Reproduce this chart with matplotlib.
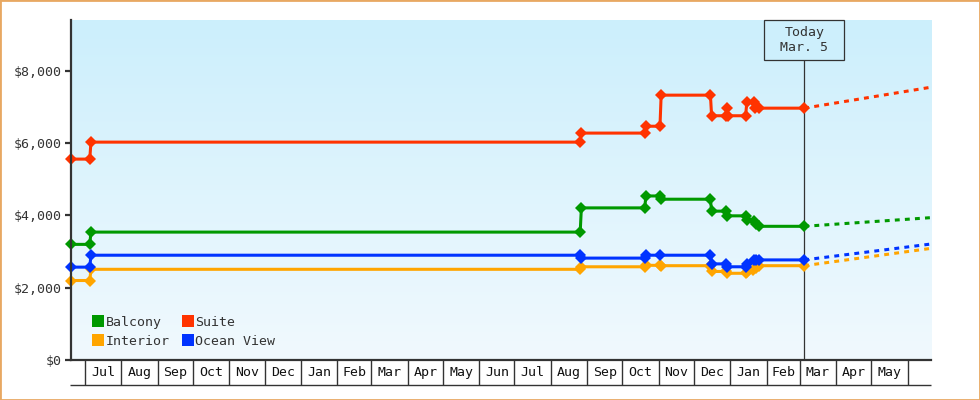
import matplotlib
matplotlib.use('Agg')
import matplotlib.pyplot as plt
import matplotlib.dates as mdates
import matplotlib.transforms as mtransforms
from matplotlib.lines import Line2D
from matplotlib.patches import Rectangle
from matplotlib.colors import LinearSegmentedColormap
import numpy as np
import pandas as pd

plt.rcParams['font.family'] = ['DejaVu Sans Mono', 'DejaVu Sans']

# ---------------- data ----------------
series_names = ["Balcony", "Interior", "Suite", "Ocean View"]
series_colors = ["#009900", "#ffa500", "#ff3300", "#0033ff"]

balcony_dates = ["2023-06-19", "2023-07-05", "2023-07-06", "2024-08-26", "2024-08-27",
                 "2024-10-20", "2024-10-21", "2024-11-02", "2024-11-03", "2024-12-15",
                 "2024-12-16", "2024-12-28", "2024-12-29", "2025-01-14", "2025-01-15",
                 "2025-01-21", "2025-01-23", "2025-01-25", "2025-03-05"]
balcony_prices = [3200, 3200, 3540, 3540, 4210,
                  4210, 4540, 4540, 4450, 4450,
                  4120, 4120, 3990, 3990, 3880,
                  3860, 3760, 3700, 3700]

interior_dates = ["2023-06-19", "2023-07-05", "2023-07-06", "2024-08-26", "2024-08-27",
                  "2024-10-20", "2024-10-21", "2024-11-02", "2024-11-03", "2024-12-15",
                  "2024-12-16", "2024-12-28", "2024-12-29", "2025-01-14", "2025-01-15",
                  "2025-01-20", "2025-01-23", "2025-01-25", "2025-03-05"]
interior_prices = [2200, 2200, 2510, 2510, 2580,
                   2580, 2620, 2620, 2610, 2610,
                   2450, 2450, 2400, 2400, 2440,
                   2480, 2560, 2610, 2610]

suite_dates = ["2023-06-19", "2023-07-05", "2023-07-06", "2024-08-26", "2024-08-27",
               "2024-10-20", "2024-10-21", "2024-11-02", "2024-11-03", "2024-12-15",
               "2024-12-16", "2024-12-28", "2024-12-29", "2024-12-30", "2025-01-14",
               "2025-01-15", "2025-01-21", "2025-01-22", "2025-01-25", "2025-03-05"]
suite_prices = [5560, 5560, 6030, 6030, 6280,
                6280, 6470, 6470, 7330, 7330,
                6760, 6760, 6970, 6760, 6760,
                7130, 7130, 6980, 6970, 6970]

ocean_dates = ["2023-06-19", "2023-07-05", "2023-07-06", "2024-08-26", "2024-08-27",
               "2024-10-20", "2024-10-21", "2024-11-02", "2024-12-15",
               "2024-12-16", "2024-12-28", "2024-12-29", "2025-01-14", "2025-01-15",
               "2025-01-21", "2025-01-23", "2025-01-25", "2025-03-05"]
ocean_prices = [2570, 2570, 2900, 2900, 2820,
                2820, 2900, 2900, 2900,
                2660, 2660, 2580, 2580, 2660,
                2760, 2770, 2770, 2770]

forecast_dates = ["2025-03-05", "2025-06-21"]
balcony_forecast = [3700, 3940]
interior_forecast = [2610, 3090]
suite_forecast = [6970, 7550]
ocean_forecast = [2770, 3210]

today = "2025-03-05"
today_label = "Today\nMar. 5"

month_labels = ["Jul", "Aug", "Sep", "Oct", "Nov", "Dec", "Jan", "Feb", "Mar", "Apr",
                "May", "Jun", "Jul", "Aug", "Sep", "Oct", "Nov", "Dec", "Jan", "Feb",
                "Mar", "Apr", "May"]
first_month = "2023-07-01"

y_ticks = [0, 2000, 4000, 6000, 8000]
y_ticklabels = ["$0", "$2,000", "$4,000", "$6,000", "$8,000"]
x_range = ["2023-06-19", "2025-06-21"]
y_max = 9410

# ---------------- figure ----------------
W, H = 980, 400
fig = plt.figure(figsize=(W / 100, H / 100), dpi=100)
fig.patch.set_facecolor('white')
ax = fig.add_axes([71 / W, 40 / H, 860 / W, 340 / H])

dark = "#333333"
fs = 9.5

# background gradient
cmap = LinearSegmentedColormap.from_list("bg", ["#cceffc", "#f1f9fe"])
ax.imshow(np.linspace(0, 1, 256).reshape(-1, 1), cmap=cmap, aspect='auto',
          extent=[0, 1, 0, 1], transform=ax.transAxes, zorder=0, interpolation='bilinear')

dates_list = [balcony_dates, interior_dates, suite_dates, ocean_dates]
prices_list = [balcony_prices, interior_prices, suite_prices, ocean_prices]
fc_list = [balcony_forecast, interior_forecast, suite_forecast, ocean_forecast]

fc_x = pd.to_datetime(forecast_dates)
for name, col, d, p, f in zip(series_names, series_colors, dates_list, prices_list, fc_list):
    ax.plot(fc_x, f, color=col, lw=2.2, linestyle=(0, (1.6, 1.7)),
            dash_capstyle='butt', zorder=3, clip_on=False)
for name, col, d, p in zip(series_names, series_colors, dates_list, prices_list):
    ax.plot(pd.to_datetime(d), p, color=col, lw=2.2, marker='D', ms=5.8, mew=0,
            zorder=4, clip_on=False, solid_joinstyle='miter')

x0, x1 = mdates.date2num(pd.to_datetime(x_range))
ax.set_xlim(x0, x1)
ax.set_ylim(0, y_max)

# spines
for s in ['top', 'right']:
    ax.spines[s].set_visible(False)
ax.spines['left'].set_color(dark)
ax.spines['left'].set_linewidth(1.6)
ax.spines['bottom'].set_color(dark)
ax.spines['bottom'].set_linewidth(1.6)
ax.spines['left'].set_zorder(5)

ax.set_yticks(y_ticks)
ax.set_yticklabels(y_ticklabels)
ax.tick_params(axis='y', length=4, width=1.6, color=dark, labelcolor=dark,
               labelsize=fs, pad=2.5, direction='out')
ax.set_xticks([])

# month boxes
trans = mtransforms.blended_transform_factory(ax.transData, ax.transAxes)
box_h = 25 / 340
bounds = pd.date_range(first_month, periods=len(month_labels) + 1, freq='MS')
bnums = mdates.date2num(bounds)
for b in bnums:
    ax.plot([b, b], [0, -box_h], transform=trans, color=dark, lw=1.0,
            clip_on=False, solid_capstyle='butt')
ax.plot([-0.0012, 1], [-box_h, -box_h], transform=ax.transAxes, color=dark, lw=1.0,
        clip_on=False, solid_capstyle='butt')
for lab, a, b in zip(month_labels, bnums[:-1], bnums[1:]):
    ax.text((a + b) / 2, -box_h / 2, lab, transform=trans, ha='center', va='center',
            fontsize=fs, color="#111111")

# today marker
tnum = mdates.date2num(pd.to_datetime(today))
tfrac = (tnum - x0) / (x1 - x0)
box_top = 1.0
box_bot = (360 - 60) / 340
ax.plot([tnum, tnum], [0, box_bot], transform=trans, color=dark, lw=0.9, zorder=3.5)
bw = 80 / 860
ax.add_patch(Rectangle((tfrac - bw / 2, box_bot), bw, box_top - box_bot,
                       transform=ax.transAxes, facecolor="#cdeffc", edgecolor=dark,
                       lw=0.9, zorder=6, clip_on=False))
ax.text(tfrac, (box_top + box_bot) / 2, today_label, transform=ax.transAxes,
        ha='center', va='center', fontsize=fs, color=dark, zorder=7,
        linespacing=1.25)

# legend
handles = [Line2D([], [], marker='s', ls='', color=c, ms=8, mew=0) for c in series_colors]
leg = ax.legend(handles, series_names, ncol=2, loc='lower left',
                bbox_to_anchor=(0.024, 0.036), frameon=False, fontsize=fs,
                handlelength=1.0, handletextpad=0.05, columnspacing=0.92,
                labelspacing=0.47, borderpad=0, borderaxespad=0)
for t in leg.get_texts():
    t.set_color(dark)

# outer border
fig.patches.append(Rectangle((0, 0), 1, 1, transform=fig.transFigure, fill=False,
                             edgecolor="#e8a862", lw=2.0, zorder=10))

fig.savefig("out.png", dpi=100)
